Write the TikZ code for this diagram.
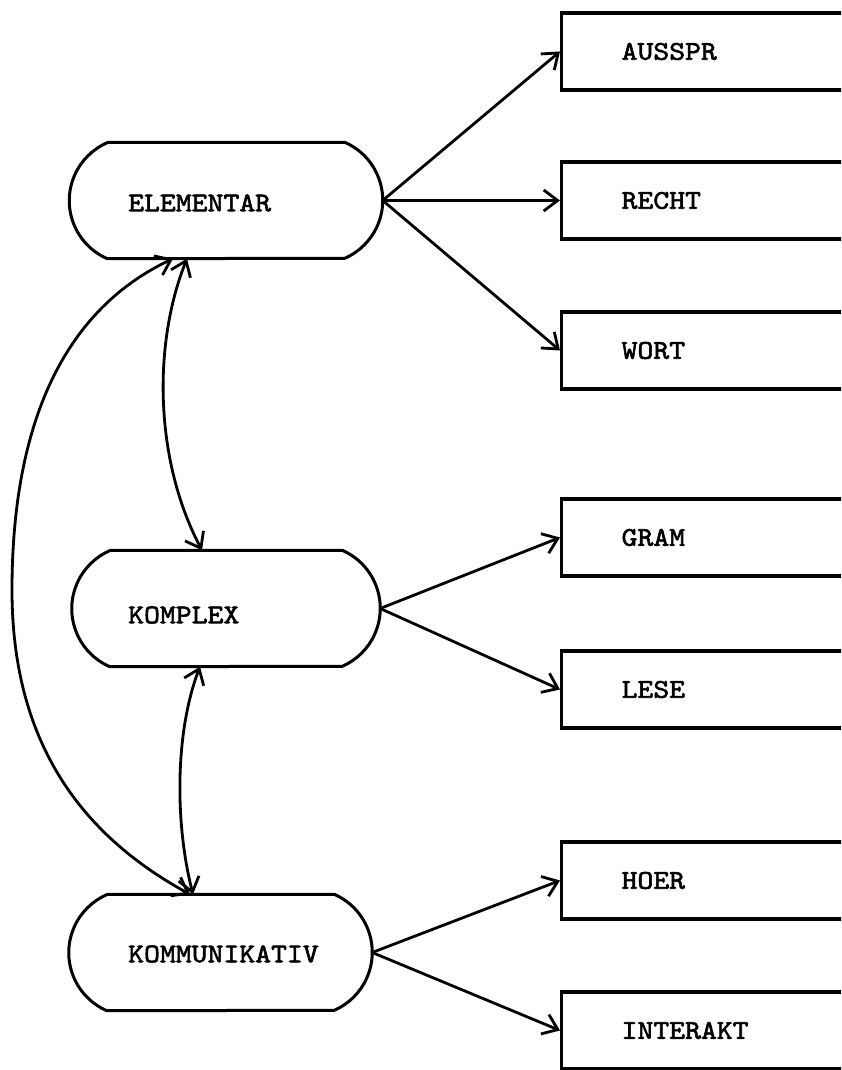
\documentclass[tikz,border=0pt]{standalone}
\usepackage{fontspec}
\newfontfamily\typew{lmmono10-regular}[Extension=.otf, FakeStretch=1.12, FakeBold=2.2]
\usetikzlibrary{arrows.meta,calc,bending}
\newcommand\drawstad[1]{%
  \draw[stadline] ($(#1.north west)+(38,0)$) -- ($(#1.north east)+(-38,0)$)
    arc[start angle=66.5, end angle=-66.5, radius=63.26]
    -- ($(#1.south west)+(38,0)$)
    arc[start angle=246.5, end angle=113.5, radius=63.26] -- cycle;}
\begin{document}
\begin{tikzpicture}[x=1pt,y=1pt,
  stad/.style={minimum height=116pt, inner sep=0pt},
  stadline/.style={line width=3pt, line join=round},
  lbl/.style={anchor=west, inner sep=0pt, font=\typew\fontsize{27}{30}\selectfont},
  box/.style={draw, line width=3.2pt, anchor=west, minimum height=77pt,
    text width=220pt, inner xsep=60pt, inner ysep=0pt, align=left,
    font=\typew\fontsize{27}{30}\selectfont},
  conn/.style={line width=2.8pt, -{Straight Barb[length=14pt,width=21pt]}},
  dconn/.style={line width=2.8pt, {Straight Barb[length=14pt,width=21pt,flex]}-{Straight Barb[length=14pt,width=21pt,flex]}}]
\useasboundingbox (0,0) rectangle (841,1070);
\clip (0,0) rectangle (841,1070);
\fill[white] (0,0) rectangle (841,1070);
% stadium nodes
\node[stad, minimum width=313pt] (E) at (226,869.5) {};
\node[stad, minimum width=308pt] (K) at (226,461.5) {};
\node[stad, minimum width=303pt] (C) at (220.5,117.5) {};
\drawstad{E}
\drawstad{K}
\drawstad{C}
\node[lbl] (Et) at (128,867) {ELEMENTAR};
\node[lbl] (Kt) at (128,455) {KOMPLEX};
\node[lbl] (Ct) at (128,116) {KOMMUNIKATIV};
% boxes
\node[box] (A1) at (560,1018.5) {AUSSPR};
\node[box] (A2) at (560,869.5) {RECHT};
\node[box] (A3) at (560,719.5) {WORT};
\node[box] (B1) at (560,532.5) {GRAM};
\node[box] (B2) at (560,380.5) {LESE};
\node[box] (C1) at (560,189.5) {HOER};
\node[box] (C2) at (560,39.5) {INTERAKT};
% connectors
\draw[conn] (E.east) -- (A1.west);
\draw[conn] (E.east) -- (A2.west);
\draw[conn] (E.east) -- (A3.west);
\draw[conn] (K.east) -- (B1.west);
\draw[conn] (K.east) -- (B2.west);
\draw[conn] (C.east) -- (C1.west);
\draw[conn] (C.east) -- (C2.west);
% curved double arrows
\draw[dconn] ($(E.south)+(-39,0)$) .. controls (153,730) and (153,610) .. ($(K.north)+(-24,0)$);
\draw[dconn] ($(K.south)+(-26,0)$) .. controls (174.5,340) and (174.5,245) .. ($(C.north)+(-27.5,0)$);
\draw[dconn] ($(E.south)+(-53,0)$) .. controls (60,760) and (12,640) .. (12,480)
  .. controls (12,340) and (70,240) .. ($(C.north)+(-30.5,0)$);
\end{tikzpicture}
\end{document}
